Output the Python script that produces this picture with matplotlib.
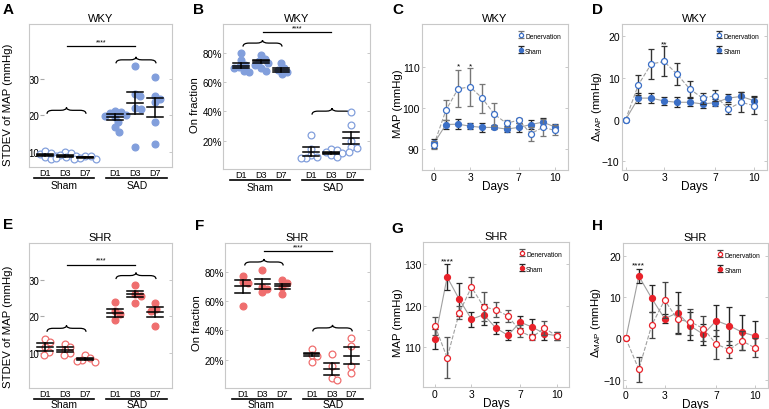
import numpy as np
import matplotlib.pyplot as plt
import matplotlib.transforms as mtransforms
from matplotlib.path import Path
from matplotlib.patches import PathPatch

# fonts
plt.rcParams['font.family'] = ['Liberation Sans', 'DejaVu Sans']
plt.rcParams['mathtext.fontset'] = 'custom'
plt.rcParams['mathtext.rm'] = 'Liberation Sans'
plt.rcParams['mathtext.it'] = 'Liberation Sans:italic'

W, H = 769, 410

#---------------------------------------------------------------------------------------------------
# data
cat_labels = ['D1', 'D3', 'D7', 'D1', 'D3', 'D7']
group_labels = ['Sham', 'SAD']

# A: WKY, STDEV of MAP (mmHg)
wky_sd_pts = [[9.5, 10.3, 8.5, 9.0, 8.2, 9.8],
              [10.0, 8.5, 9.2, 8.3, 9.6, 8.8],
              [9.0, 8.2, 8.8, 8.4, 8.1],
              [21.2, 21.0, 20.6, 20.2, 19.8, 19.5, 18.2, 16.8, 15.6],
              [33.4, 25.9, 25.2, 22.0, 21.7, 11.5],
              [30.5, 25.3, 24.5, 23.8, 18.3, 12.1]]
wky_sd_mean = [9.2, 9.0, 8.5, 19.6, 23.4, 22.3]
wky_sd_sem = [0.35, 0.3, 0.25, 0.8, 2.9, 2.6]

# B: WKY, On fraction (%)
wky_on_pts = [[80, 75, 72, 70.5, 70, 68, 67],
              [79, 76, 74.5, 73, 72, 70, 68],
              [73.5, 70, 68.5, 67, 65.5],
              [24, 14, 10, 9, 8, 8],
              [14, 13.5, 12.5, 11.5, 10, 8.5],
              [39.5, 31, 19.5, 15.5, 15, 12]]
wky_on_mean = [71.5, 74.3, 68.5, 12.5, 11.3, 21.6]
wky_on_sem = [1.8, 1.3, 1.2, 2.8, 0.8, 4.2]

# E: SHR, STDEV of MAP (mmHg)
shr_sd_pts = [[13.8, 13.0, 11.5, 10.3, 9.5],
              [12.5, 11.6, 10.8, 10.0, 9.3],
              [9.3, 8.6, 8.0, 7.6, 7.8],
              [23.8, 21.5, 20.6, 19.0],
              [28.6, 26.0, 25.5, 23.6],
              [23.5, 22.0, 21.3, 17.2]]
shr_sd_mean = [11.5, 10.9, 8.3, 20.9, 26.1, 21.1]
shr_sd_sem = [1.1, 0.6, 0.3, 1.0, 0.9, 1.4]

# F: SHR, On fraction (%)
shr_on_pts = [[77, 73, 72.5, 56.7],
              [81, 70, 68, 66],
              [74.5, 72.5, 70, 64.7],
              [27, 23, 22.5, 18.4],
              [24.1, 15.4, 7.7, 6.3],
              [34.8, 29.1, 15.7, 11.1]]
shr_on_mean = [70.2, 71.7, 70.2, 23.6, 13.4, 22.8]
shr_on_sem = [4.3, 3.2, 1.8, 1.2, 4.2, 5.6]

days = list(range(11))

# C: WKY MAP
wky_map_den = [91.0, 99.5, 104.7, 105.2, 102.4, 98.5, 96.3, 97.1, 93.8, 95.3, 94.6]
wky_map_den_err = [1.0, 2.5, 4.5, 4.7, 3.6, 2.8, 0.8, 0.6, 1.7, 2.0, 1.2]
wky_map_sham = [91.4, 96.0, 96.1, 95.6, 95.3, 95.3, 94.9, 95.3, 96.0, 96.6, 95.4]
wky_map_sham_err = [1.2, 1.2, 1.2, 0.8, 1.0, 0.5, 0.8, 1.0, 1.0, 1.0, 0.8]

# D: WKY delta MAP
wky_dmap_den = [0, 8.4, 13.4, 14.0, 11.0, 7.4, 5.2, 5.8, 2.6, 4.2, 3.4]
wky_dmap_den_err = [0, 2.4, 3.6, 3.6, 2.6, 1.9, 1.3, 1.3, 1.3, 2.4, 2.0]
wky_dmap_sham = [0, 5.2, 5.2, 4.5, 4.2, 4.2, 3.8, 4.1, 5.2, 5.6, 4.6]
wky_dmap_sham_err = [0, 1.2, 1.2, 1.0, 1.2, 1.0, 1.0, 0.8, 1.0, 1.0, 1.0]

# G: SHR MAP
shr_map_den = [115.1, 107.4, 118.3, 124.5, 119.7, 119.0, 117.5, 113.8, 112.4, 114.6, 112.6]
shr_map_den_err = [2.2, 4.9, 1.5, 2.4, 3.5, 1.8, 1.5, 1.4, 0.8, 1.6, 1.0]
shr_map_sham = [111.9, 126.9, 121.5, 116.7, 117.8, 114.6, 112.8, 116.0, 114.8, 113.2, 112.7]
shr_map_sham_err = [2.4, 3.2, 4.0, 1.8, 2.5, 1.5, 1.2, 1.4, 2.0, 1.6, 1.0]

# H: SHR delta MAP
shr_dmap_den = [0, -7.5, 3.2, 9.3, 4.6, 4.0, 2.4, -1.4, -2.7, -0.6, -2.3]
shr_dmap_den_err = [0, 3.0, 3.2, 4.3, 3.5, 3.2, 3.0, 3.5, 2.1, 2.3, 2.3]
shr_dmap_sham = [0, 15.1, 9.7, 4.8, 6.2, 3.0, 1.0, 4.3, 3.1, 1.5, 0.6]
shr_dmap_sham_err = [0, 1.8, 3.2, 1.0, 5.0, 3.5, 2.5, 3.8, 4.6, 4.2, 3.5]

#---------------------------------------------------------------------------------------------------
blue_pt = '#829fdc'
red_pt = '#ef6e6e'
blue = '#3b6fc6'
red = '#e8222a'
cat_pos = [1, 2, 3, 4.5, 5.5, 6.5]

fig = plt.figure(figsize=(W / 100, H / 100), dpi=100)


def px_axes(l, t, r, b):
    return fig.add_axes([l / W, 1 - b / H, (r - l) / W, (b - t) / H])


def frame(ax):
    for s in ax.spines.values():
        s.set_color('#c8c8c8')
        s.set_linewidth(0.8)
    ax.tick_params(direction='in', length=2.5, width=0.6, color='#c0c0c0',
                   labelsize=7, right=True, top=False, pad=1.5)


def below(ax, px):
    tr = mtransforms.blended_transform_factory(ax.transData, ax.transAxes)
    return tr + mtransforms.ScaledTranslation(0, -px / 100, fig.dpi_scale_trans)


def px_to_y(ax, px):
    y0, y1 = ax.get_ylim()
    return px * (y1 - y0) / (ax.get_position().height * H)


def swarm(ax, xc, vals, d=5.5):
    tr = ax.transData
    yp = tr.transform(np.column_stack([np.full(len(vals), xc), vals]))[:, 1]
    upx = tr.transform((xc + 1, 0))[0] - tr.transform((xc, 0))[0]
    cands = [0.0]
    for k in range(1, 60):
        cands += [k * 0.5, -k * 0.5]
    placed = []
    off = np.zeros(len(vals))
    for i in np.argsort(vals)[::-1]:
        for c in cands:
            if all((c - qx) ** 2 + (yp[i] - qy) ** 2 >= d * d for qx, qy in placed):
                break
        placed.append((c, yp[i]))
        off[i] = c / upx
    return off


def brace(ax, x0, x1, y, up_px=3.0, down_px=3.5, dx=0.3):
    hu = px_to_y(ax, up_px)
    hd = px_to_y(ax, down_px)
    xm = (x0 + x1) / 2
    verts = [(x0, y - hd), (x0, y), (x0 + dx, y), (xm - dx, y), (xm, y), (xm, y + hu),
             (xm, y), (xm + dx, y), (x1 - dx, y), (x1, y), (x1, y - hd)]
    codes = [Path.MOVETO, Path.CURVE3, Path.CURVE3, Path.LINETO, Path.CURVE3, Path.CURVE3,
             Path.CURVE3, Path.CURVE3, Path.LINETO, Path.CURVE3, Path.CURVE3]
    ax.add_patch(PathPatch(Path(verts, codes), fill=False, lw=0.9, color='k', clip_on=False))


def strip_panel(ax, pts, means, sems, color, sham_filled, xlim, ylim, yticks, yticklabels,
                ylabel, title, sham_y, sad_y, sig_y, inner, ylab_xy, group_px):
    frame(ax)
    ax.set_xlim(*xlim)
    ax.set_ylim(*ylim)
    ax.set_xticks([])
    ax.set_yticks(yticks)
    ax.set_yticklabels(yticklabels)
    if inner:
        # tick labels sit inside the frame with small dashes next to them
        ax.tick_params(axis='y', left=False, pad=-7.6)
        xf = 13.3 / (ax.get_position().width * W)
        tr = mtransforms.blended_transform_factory(ax.transAxes, ax.transData)
        ax.plot([xf] * len(yticks), yticks, ls='none', marker='_', ms=2.5, mew=0.8,
                color='#aaaaaa', transform=tr)
    else:
        ax.tick_params(axis='y', labelsize=7, pad=0.8)
    ax.set_title(title, fontsize=8, pad=2)
    ax.set_ylabel(ylabel, fontsize=8.2)
    ax.yaxis.set_label_coords(*ylab_xy)

    for i, vals in enumerate(pts):
        filled = (i < 3) == sham_filled
        xs = cat_pos[i] + swarm(ax, cat_pos[i], vals)
        ax.scatter(xs, vals, s=24, facecolor=color if filled else 'white',
                   edgecolor=color, linewidth=0.9, zorder=2)
        m, s, hw = means[i], sems[i], 0.38
        for yy in (m - s, m, m + s):
            ax.plot([cat_pos[i] - hw, cat_pos[i] + hw], [yy, yy], color='k', lw=1.1, zorder=3)
        ax.plot([cat_pos[i]] * 2, [m - s, m + s], color='k', lw=1.1, zorder=3)

    brace(ax, 1.1, 3.05, sham_y)
    brace(ax, 4.55, 6.55, sad_y)
    ax.plot([2.1, 5.5], [sig_y, sig_y], color='k', lw=0.9)
    ax.text(3.8, sig_y + px_to_y(ax, 1), '****', ha='center', va='bottom', fontsize=5)

    for x, lab in zip(cat_pos, cat_labels):
        ax.text(x, 0, lab, transform=below(ax, 6), ha='center', va='center', fontsize=6.5)
    for (a, b), lab, xc in zip([(0.45, 3.45), (4.05, 7.1)], group_labels, [1.95, 5.6]):
        ax.plot([a, b], [0, 0], transform=below(ax, 10.5), color='k', lw=1.2, clip_on=False)
        ax.text(xc, 0, lab, transform=below(ax, group_px), ha='center', va='center', fontsize=7.5)


def line_panel(ax, den, den_err, sham, sham_err, color, den_ecolor, xlim, ylim, yticks,
               ylabel, title, star_days, star_y, star_text, ylab_xy):
    frame(ax)
    ax.set_xlim(*xlim)
    ax.set_ylim(*ylim)
    ax.set_xticks([0, 3, 7, 10])
    ax.set_yticks(yticks)
    ax.tick_params(labelsize=7.5)
    ax.set_title(title, fontsize=8, pad=2)
    ax.set_xlabel('Days', fontsize=8.5, labelpad=-1.5)
    ax.set_ylabel(ylabel, fontsize=8.2)
    ax.yaxis.set_label_coords(*ylab_xy)

    ax.plot(days, den, ls='--', color='#a0a0a0', lw=0.8, zorder=1)
    ax.plot(days, sham, ls='-', color='#a0a0a0', lw=0.8, zorder=1)
    e1 = ax.errorbar(days, den, yerr=den_err, fmt='o', ms=4.3, mfc='white', mec=color, mew=0.9,
                     ecolor=den_ecolor, elinewidth=1.0, capsize=2, capthick=1.0,
                     label='Denervation', zorder=3)
    e2 = ax.errorbar(days, sham, yerr=sham_err, fmt='o', ms=4.3, mfc=color, mec=color, mew=0.9,
                     ecolor='#262626', elinewidth=1.0, capsize=2, capthick=1.0,
                     label='Sham', zorder=2)
    for d in star_days:
        ax.text(d, star_y, star_text, ha='center', va='center', fontsize=6)
    ax.legend(handles=[e1, e2], loc='upper right', fontsize=4.8, frameon=False, markerscale=0.7,
              handlelength=0.6, handleheight=1.6, handletextpad=0.4, labelspacing=1.0,
              borderaxespad=0.7)


#---------------------------------------------------------------------------------------------------
axA = px_axes(29, 25, 172, 168)
axB = px_axes(223, 25, 370, 170)
axC = px_axes(421.7, 25, 568.3, 170.7)
axD = px_axes(621.7, 25, 766.7, 170.7)
axE = px_axes(29, 244, 172, 389)
axF = px_axes(225, 244, 370, 389)
axG = px_axes(423.3, 243, 569.3, 388)
axH = px_axes(623.3, 244, 767.7, 389)

strip_panel(axA, wky_sd_pts, wky_sd_mean, wky_sd_sem, blue_pt, False, (0.2, 7.35), (5.9, 45),
            [10, 20, 30], ['10', '20', '30'], 'STDEV of MAP (mmHg)', 'WKY', 21.4, 35.2, 38.9,
            True, (-0.11, 0.44), 18.5)
strip_panel(axB, wky_on_pts, wky_on_mean, wky_on_sem, blue_pt, True, (0.1, 7.45), (0.5, 100),
            [20, 40, 60, 80], ['20%', '40%', '60%', '80%'], 'On fraction', 'WKY', 86.9, 40.2, 94.4,
            False, (-0.155, 0.45), 18)
strip_panel(axE, shr_sd_pts, shr_sd_mean, shr_sd_sem, red_pt, False, (0.2, 7.35), (0.4, 40),
            [10, 20, 30], ['10', '20', '30'], 'STDEV of MAP (mmHg)', 'SHR', 16.7, 31.1, 34.1,
            True, (-0.11, 0.43), 16.3)
strip_panel(axF, shr_on_pts, shr_on_mean, shr_on_sem, red_pt, True, (0.1, 7.45), (0.6, 99.8),
            [20, 40, 60, 80], ['20%', '40%', '60%', '80%'], 'On fraction', 'SHR', 86.8, 41.7, 94.4,
            False, (-0.157, 0.455), 16.3)

line_panel(axC, wky_map_den, wky_map_den_err, wky_map_sham, wky_map_sham_err, blue, '#777777',
           (-1.0, 11.1), (85, 120.5), [90, 100, 110], 'MAP (mmHg)', 'WKY', [2, 3], 110.4, '*',
           (-0.128, 0.46))
line_panel(axD, wky_dmap_den, wky_dmap_den_err, wky_dmap_sham, wky_dmap_sham_err, blue, '#333333',
           (-0.3, 11.0), (-12, 23), [-10, 0, 10, 20], r'$\Delta_{\mathrm{MAP}}$ (mmHg)', 'WKY',
           [3], 18.3, '**', (-0.125, 0.44))
line_panel(axG, shr_map_den, shr_map_den_err, shr_map_sham, shr_map_sham_err, red, '#555555',
           (-0.96, 11.04), (100.3, 135.4), [110, 120, 130], 'MAP (mmHg)', 'SHR', [1], 130.8, '****',
           (-0.139, 0.45))
line_panel(axH, shr_dmap_den, shr_dmap_den_err, shr_dmap_sham, shr_dmap_sham_err, red, '#444444',
           (-0.2, 10.98), (-12, 23.1), [-10, 0, 10, 20], r'$\Delta_{\mathrm{MAP}}$ (mmHg)', 'SHR',
           [1], 17.9, '****', (-0.14, 0.455))

# panel letters
for lab, x, y in [('A', 3, 3), ('B', 193, 3), ('C', 392, 3), ('D', 592, 3),
                  ('E', 3, 218), ('F', 195, 219), ('G', 391, 222), ('H', 592, 219)]:
    fig.text(x / W, 1 - y / H, lab, fontsize=11, fontweight='bold', ha='left', va='top')

plt.savefig('out.png', dpi=100)
